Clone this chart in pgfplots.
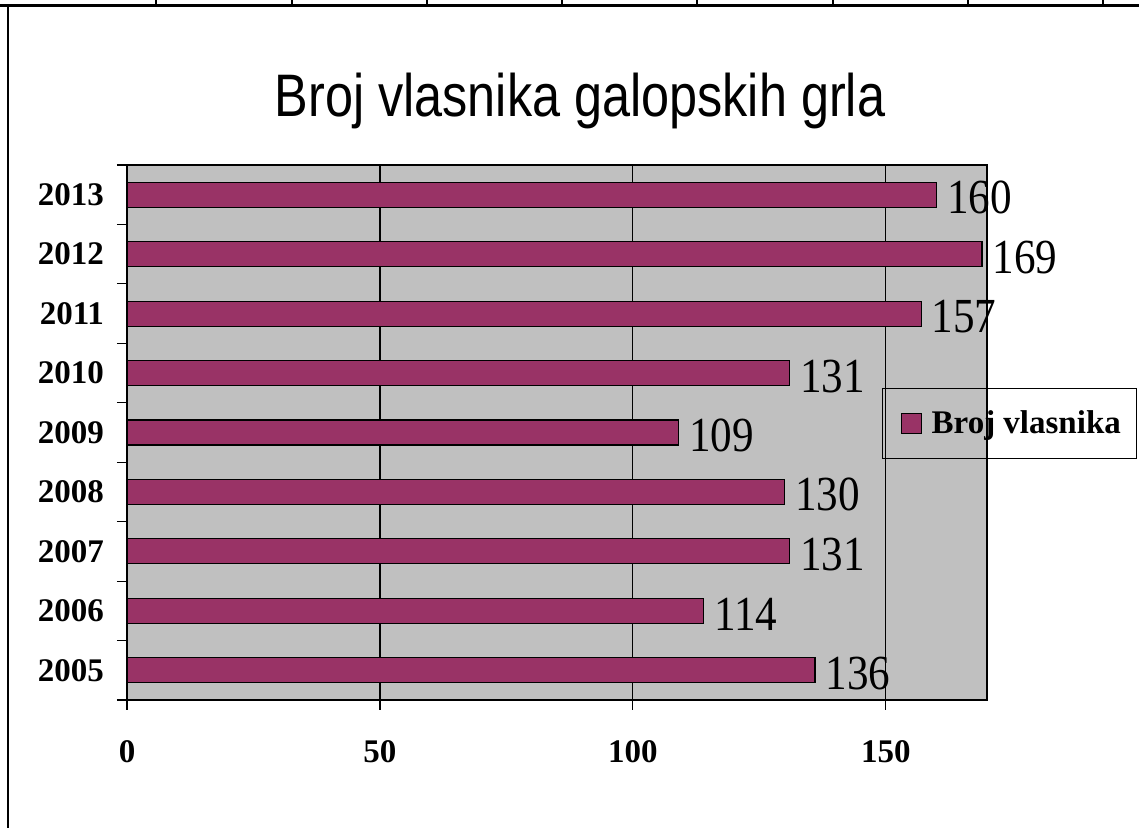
\documentclass[border=0pt]{standalone}
\usepackage{pgfplots}
\pgfplotsset{compat=1.18}
\usepackage{fontspec}
\setmainfont{Liberation Serif}
\newfontfamily\titlefont[FakeStretch=0.84]{Liberation Sans}
\newfontfamily\labelfont[FakeStretch=0.88]{Liberation Serif}
\definecolor{barcol}{RGB}{153,51,102}
\definecolor{plotbg}{RGB}{192,192,192}

\begin{document}
\begin{tikzpicture}[x=0.5pt,y=0.5pt]
\path[use as bounding box] (0,0) rectangle (1139,828);
% table borders around the chart
\draw[line width=1.75pt] (0,822.5) -- (1139,822.5);
\foreach \xx in {156,292,427,562,697,833,968,1103}
  \draw[line width=0.75pt] (\xx,828) -- (\xx,823);
\draw[line width=0.75pt] (8,823) -- (8,0);
\node[font=\titlefont\fontsize{30}{36}\selectfont, anchor=base, inner sep=0pt]
  at (580,711) {Broj vlasnika galopskih grla};

\begin{axis}[
  at={(63.5pt,64pt)}, anchor=south west,
  width=430pt, height=267.5pt, scale only axis,
  xbar, bar width=12.5pt,
  xmin=0, xmax=170, ymin=-0.5, ymax=8.5,
  clip=false,
  axis background/.style={fill=plotbg},
  axis line style={black, line width=0.6pt},
  xtick={0,50,100,150},
  xmajorgrids, grid style={black, line width=0.6pt},
  ytick={-0.5,0.5,...,8.5},
  yticklabels={},
  extra y ticks={0,...,8},
  extra y tick labels={2005,2006,2007,2008,2009,2010,2011,2012,2013},
  extra y tick style={major tick length=0pt},
  tick style={black, line width=0.6pt},
  major tick length=5pt,
  tick align=outside, xtick pos=bottom, ytick pos=left,
  /pgf/number format/assume math mode=true,
  ticklabel style={font=\bfseries\fontsize{16.5}{18}\selectfont},
  xticklabel style={yshift=-11.5pt},
  yticklabel style={xshift=-8pt},
  nodes near coords,
  every node near coord/.append style={font=\labelfont\fontsize{24.5}{28}\selectfont,
    anchor=west, inner sep=0pt, xshift=5pt, yshift=-1.5pt, black},
  legend style={at={(0.878,0.583)}, anchor=north west, draw=black,
    line width=0.6pt, fill=none, inner xsep=6pt, inner ysep=9pt,
    font=\bfseries\fontsize{16.5}{18}\selectfont},
  legend image code/.code={\path[draw=none, fill=none] (0pt,0pt) -- (16.5pt,0pt);
    \draw[fill=barcol, draw=black, line width=0.5pt]
    (3.5pt,-5pt) rectangle (13.5pt,5pt);},
]
\addplot[fill=barcol, draw=black, line width=0.6pt] coordinates {
(136,0) (114,1) (131,2) (130,3) (109,4) (131,5) (157,6) (169,7) (160,8)};
\addlegendentry{Broj vlasnika}
\end{axis}
\end{tikzpicture}
\end{document}
